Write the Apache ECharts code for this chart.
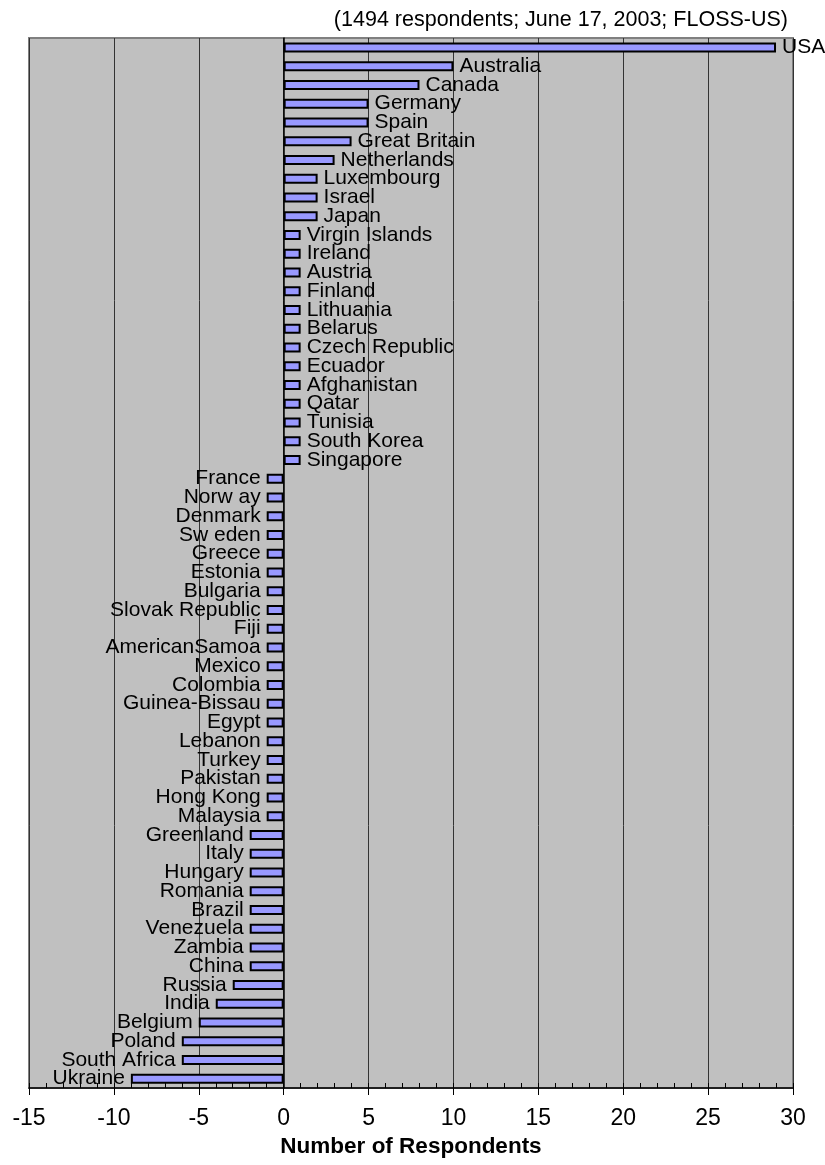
<!DOCTYPE html>
<html>
<head>
<meta charset="utf-8">
<script src="https://cdn.jsdelivr.net/npm/echarts@6/dist/echarts.min.js"></script>
<style>
  html, body { margin: 0; padding: 0; background: #ffffff; }
  #chart { width: 825px; height: 1165px; }
</style>
</head>
<body>
<div id="chart"></div>
<script>
const subtitle = "(1494 respondents; June 17, 2003; FLOSS-US)";
const axisTitle = "Number of Respondents";

const categories = [
  "USA", "Australia", "Canada", "Germany", "Spain", "Great Britain", "Netherlands",
  "Luxembourg", "Israel", "Japan", "Virgin Islands", "Ireland", "Austria", "Finland",
  "Lithuania", "Belarus", "Czech Republic", "Ecuador", "Afghanistan", "Qatar", "Tunisia",
  "South Korea", "Singapore",
  "France", "Norw ay", "Denmark", "Sw eden", "Greece", "Estonia", "Bulgaria",
  "Slovak Republic", "Fiji", "AmericanSamoa", "Mexico", "Colombia", "Guinea-Bissau",
  "Egypt", "Lebanon", "Turkey", "Pakistan", "Hong Kong", "Malaysia",
  "Greenland", "Italy", "Hungary", "Romania", "Brazil", "Venezuela", "Zambia", "China",
  "Russia", "India", "Belgium", "Poland", "South Africa", "Ukraine"
];

const values = [
  29, 10, 8, 5, 5, 4, 3,
  2, 2, 2, 1, 1, 1, 1,
  1, 1, 1, 1, 1, 1, 1,
  1, 1,
  -1, -1, -1, -1, -1, -1, -1,
  -1, -1, -1, -1, -1, -1,
  -1, -1, -1, -1, -1, -1,
  -2, -2, -2, -2, -2, -2, -2, -2,
  -3, -4, -5, -6, -6, -9
];

const xMin = -15;
const xMax = 30;
const xStep = 5;
const xMinorStep = 1;

const FONT = "'Liberation Sans', Arial, sans-serif";

const chart = echarts.init(document.getElementById('chart'), null, { renderer: 'canvas' });

const barData = values.map(v => ({
  value: v,
  label: { position: v >= 0 ? 'right' : 'left' }
}));

chart.setOption({
  animation: false,
  backgroundColor: '#ffffff',
  title: {
    text: subtitle,
    right: 37,
    top: 9,
    padding: 0,
    textStyle: { fontFamily: FONT, fontSize: 21.5, fontWeight: 'normal', color: '#000' }
  },
  grid: {
    left: 29, right: 32, top: 38, bottom: 77,
    show: true,
    backgroundColor: '#C0C0C0',
    borderColor: '#808080',
    borderWidth: 2
  },
  xAxis: [
    {
      type: 'value',
      min: xMin, max: xMax, interval: xStep,
      position: 'bottom',
      name: axisTitle,
      nameLocation: 'middle',
      nameGap: 46,
      nameTextStyle: { fontFamily: FONT, fontSize: 22.5, fontWeight: 'bold', color: '#000' },
      axisLine: { show: true, onZero: false, lineStyle: { color: '#000', width: 1.5 } },
      axisTick: { show: true, inside: false, length: 7, lineStyle: { color: '#000', width: 1 } },
      axisLabel: { fontFamily: FONT, fontSize: 23, color: '#000', margin: 19 },
      splitLine: { show: true, lineStyle: { color: '#333', width: 1 } }
    },
    {
      type: 'value',
      min: xMin, max: xMax, interval: xMinorStep,
      position: 'bottom',
      axisLine: { show: false, onZero: false },
      axisTick: { show: true, inside: true, length: 5, lineStyle: { color: '#000', width: 1 } },
      axisLabel: { show: false },
      splitLine: { show: false }
    }
  ],
  yAxis: {
    type: 'category',
    data: categories,
    inverse: true,
    axisLine: { show: true, onZero: true, lineStyle: { color: '#000', width: 1.5 } },
    axisTick: { show: false },
    axisLabel: { show: false },
    splitLine: { show: false }
  },
  series: [{
    type: 'bar',
    xAxisIndex: 0,
    data: barData,
    barWidth: 10,
    itemStyle: { color: '#9999FF', borderColor: '#000', borderWidth: 2 },
    label: {
      show: true,
      formatter: p => categories[p.dataIndex],
      fontFamily: FONT,
      fontSize: 21,
      color: '#000',
      distance: 6
    }
  }]
});
</script>
</body>
</html>
